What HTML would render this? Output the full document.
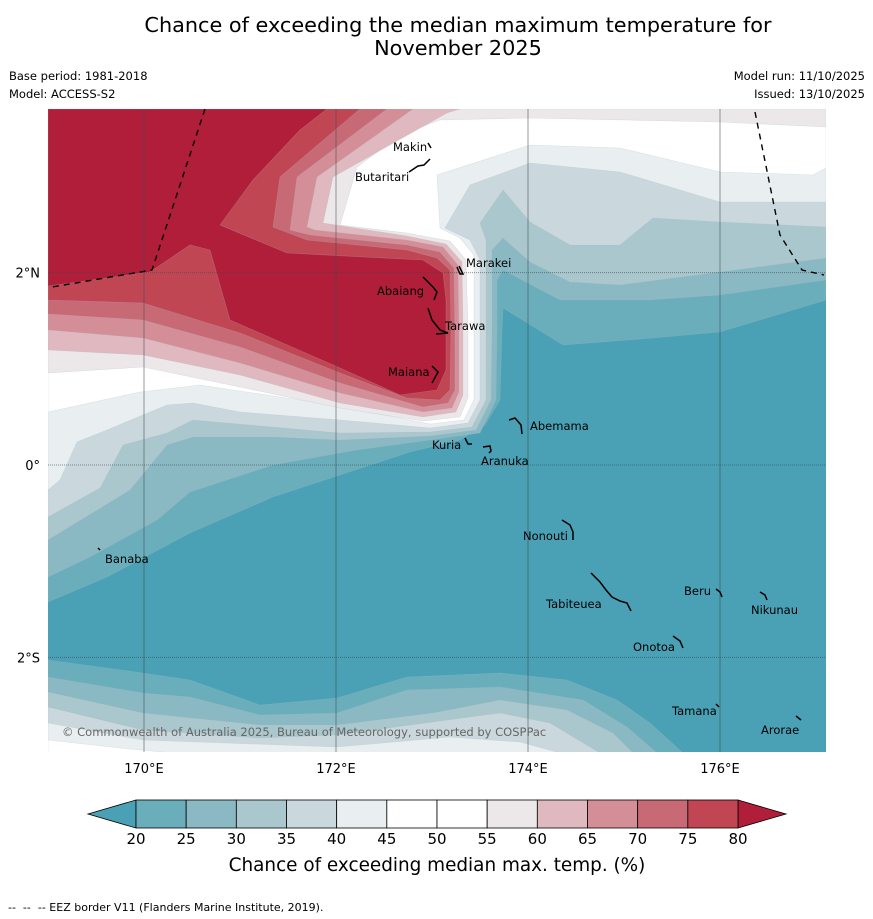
<!DOCTYPE html>
<html><head><meta charset="utf-8">
<style>
html,body{margin:0;padding:0;background:#fff;}
svg{display:block;font-family:"DejaVu Sans","Liberation Sans",sans-serif;}
</style></head>
<body>
<svg id="chart" width="873" height="919" viewBox="0 0 873 919" xmlns="http://www.w3.org/2000/svg">
<rect x="0" y="0" width="873" height="919" fill="#fff"/>
<text x="458" y="32" text-anchor="middle" font-size="20.8" fill="#000">Chance of exceeding the median maximum temperature for</text>
<text x="458" y="55" text-anchor="middle" font-size="20.8" fill="#000">November 2025</text>
<text x="9" y="80" font-size="11.5">Base period: 1981-2018</text>
<text x="9" y="98" font-size="11.5">Model: ACCESS-S2</text>
<text x="865" y="80" text-anchor="end" font-size="11.5">Model run: 11/10/2025</text>
<text x="865" y="98" text-anchor="end" font-size="11.5">Issued: 13/10/2025</text>
<defs><clipPath id="mapclip"><rect x="48" y="109" width="778" height="643"/></clipPath></defs>
<g id="map" clip-path="url(#mapclip)">
<rect x="48" y="109" width="778" height="643" fill="#4aa0b4"/>
<g id="contours"></g>
<g id="grid"></g>
<polyline points="205,109 152,270 52,287" fill="none" stroke="#000" stroke-width="1.4" stroke-dasharray="6,5"/>
<polyline points="755,112 780,235 802,270 824,275" fill="none" stroke="#000" stroke-width="1.4" stroke-dasharray="6,5"/>
<g id="islands" fill="none" stroke="#000" stroke-width="1.5"></g>
<g id="labels" font-size="11.5" fill="#000"></g>
<text x="62" y="736" font-size="11.5" fill="#666">© Commonwealth of Australia 2025, Bureau of Meteorology, supported by COSPPac</text>
</g>
<g id="axes" font-size="13" fill="#000"></g>
<g id="colorbar"></g>
<text x="437" y="871" text-anchor="middle" font-size="18.4">Chance of exceeding median max. temp. (%)</text>
<text x="8" y="911" font-size="11" xml:space="preserve">--  --  -- EEZ border V11 (Flanders Marine Institute, 2019).</text>
</svg>
<script>
// Colorbar data
const cbLevels = [20,25,30,35,40,45,50,55,60,65,70,75,80];
const cbColors = ["#6aaebb","#8ab8c3","#a9c7cc","#cad8de","#e9eef0","#ffffff","#ffffff","#ece8ea","#e0b8bf","#d48e98","#c86a75","#c04654"];
const cbUnder = "#4aa0b4";
const cbOver = "#b01e3a";
// Axis ticks
const lonTicks = [170,172,174,176];
const lonLabels = ["170°E","172°E","174°E","176°E"];
const latTicks = [2,0,-2];
const latLabels = ["2°N","0°","2°S"];

const NS="http://www.w3.org/2000/svg";
function mk(tag,attrs,parent){const e=document.createElementNS(NS,tag);for(const k in attrs)e.setAttribute(k,attrs[k]);parent.appendChild(e);return e;}
const lonX = lon => 144 + (lon-170)*96;
const latY = lat => 465 - lat*96.2;

// contour fills (digitised polylines, map pixel space)
const topContours = [
 ["#6aaebb",[[48,602],[107,577],[190,533],[273,497],[340,475],[410,452],[460,440],[485,425],[500,400],[502,330],[503,308],[563,345],[653,338],[720,332],[826,300]],"r"],
 ["#8ab8c3",[[48,577],[90,557],[157,520],[190,492],[273,465],[357,450],[430,440],[480,433],[496,400],[497,330],[497,280],[503,270],[560,300],[650,300],[720,295],[826,280]],"r"],
 ["#a9c7cc",[[48,540],[130,490],[167,445],[193,437],[273,437],[340,440],[430,436],[476,430],[491,400],[492,330],[492,250],[503,238],[530,262],[570,282],[620,285],[720,272],[826,258]],"r"],
 ["#cad8de",[[48,517],[100,488],[123,445],[167,433],[193,420],[340,433],[430,432],[472,427],[486,400],[486,330],[486,240],[480,223],[503,190],[530,222],[570,245],[620,245],[653,218],[720,222],[826,227]],"r"],
 ["#e9eef0",[[48,490],[60,480],[77,442],[107,430],[167,405],[193,403],[240,412],[340,420],[430,428],[468,423],[480,400],[480,330],[480,260],[470,240],[445,228],[470,185],[530,163],[620,172],[720,202],[826,202]],"r"],
 ["#ffffff",[[48,412],[140,392],[200,385],[300,400],[400,418],[430,424],[464,420],[474,400],[474,330],[474,255],[460,238],[440,228],[437,175],[530,145],[620,148],[720,172],[813,175],[826,168]],"r"],
 ["#ece8ea",[[48,373],[143,367],[240,387],[340,408],[423,421],[460,417],[468,398],[468,330],[466,260],[450,241],[407,233],[340,225],[357,167],[400,135],[440,120],[530,118],[720,122],[826,127]],"r"],
 ["#e0b8bf",[[48,350],[143,355],[240,375],[340,403],[423,417],[456,412],[463,395],[463,330],[462,262],[446,244],[407,236],[323,223],[333,177],[447,113],[460,109]],"t"],
 ["#d48e98",[[48,330],[143,338],[240,363],[340,393],[423,412],[452,408],[459,392],[459,330],[458,265],[443,247],[407,240],[315,230],[307,227],[317,177],[413,109]],"t"],
 ["#c86a75",[[48,314],[143,320],[240,347],[340,383],[423,407],[448,403],[455,390],[455,330],[454,268],[440,252],[407,245],[310,235],[290,230],[297,177],[387,109]],"t"],
 ["#c04654",[[48,300],[143,303],[240,333],[340,373],[407,398],[440,400],[450,390],[451,330],[450,270],[437,258],[407,250],[307,240],[273,227],[280,177],[360,109]],"t"],
 ["#b01e3a",[[48,109],[327,109],[300,130],[253,180],[220,225],[287,253],[423,260],[443,273],[446,300],[446,370],[437,390],[400,395],[340,368],[230,320],[210,250],[190,245],[150,272],[48,286]],"c"]
];
const bottomContours = [
 ["#6aaebb",[[48,660],[143,673],[190,680],[260,705],[337,698],[407,677],[500,673],[567,680],[617,700],[650,723],[683,753]]],
 ["#8ab8c3",[[48,677],[143,693],[190,697],[260,715],[337,713],[407,690],[500,687],[583,700],[627,727],[657,753]]],
 ["#a9c7cc",[[48,692],[143,713],[260,725],[337,725],[433,713],[500,700],[567,710],[613,733],[633,753]]],
 ["#cad8de",[[48,707],[143,730],[260,738],[337,735],[433,722],[500,713],[550,723],[600,753]]],
 ["#e9eef0",[[48,723],[143,740],[337,747],[450,737],[520,742],[560,753]]],
 ["#ffffff",[[48,740],[120,748],[173,753]]]
];
const cg=document.getElementById('contours');
topContours.forEach((c,i)=>{
  let pts=c[1].slice();
  if(c[2]==="r"){pts.push([826,109],[48,109]);}
  else if(c[2]==="t"){pts.push([48,109]);}
  const p=mk('polygon',{points:pts.map(q=>q.join(',')).join(' '),fill:c[0],stroke:"rgba(170,185,195,0.35)","stroke-width":"0.6"},cg);
  
  
});
bottomContours.forEach((c,i)=>{
  let pts=c[1].slice();pts.push([48,753]);
  const p=mk('polygon',{points:pts.map(q=>q.join(',')).join(' '),fill:c[0],stroke:"rgba(170,185,195,0.35)","stroke-width":"0.6"},cg);
  
  
});

// grid
const gg=document.getElementById('grid');
lonTicks.forEach(l=>{
  const ln=mk('line',{x1:lonX(l),x2:lonX(l),y1:109,y2:752,stroke:"#3c4a50","stroke-opacity":"0.55","stroke-width":"1"},gg);
  
  
});
latTicks.forEach(l=>{
  const ln=mk('line',{x1:48,x2:826,y1:latY(l),y2:latY(l),stroke:"#3c4a50","stroke-opacity":"0.6","stroke-width":"1","stroke-dasharray":"1,1"},gg);
  
  
});
// axes labels
const ag=document.getElementById('axes');
lonTicks.forEach((l,i)=>{
  const t=mk('text',{x:lonX(l),y:773,"text-anchor":"middle"},ag);t.textContent=lonLabels[i];
  
  
});
latTicks.forEach((l,i)=>{
  const t=mk('text',{x:40,y:latY(l)+5,"text-anchor":"end"},ag);t.textContent=latLabels[i];
  
  
});

// islands
const islands=[["Makin",393,151,"428,143 431,148"],["Butaritari",355,181,"409,172 418,166 424,165 430,159"],["Marakei",466,267,"457,267 460,274 463,274 459,266"],
["Abaiang",377,295,"423,277 433,287 437,292 434,300"],["Tarawa",445,330,"428,308 432,320 440,330 448,333 436,334"],["Maiana",388,376,"432,366 438,372 432,383"],
["Abemama",530,430,"509,420 515,418 521,425 522,434"],["Kuria",432,449,"465,438 468,444 472,444"],["Aranuka",481,465,"483,447 490,446 491,451 489,453"],
["Nonouti",523,540,"562,520 570,525 573,532 573,540"],["Banaba",105,563,"98,548 100,550"],["Beru",684,595,"716,589 720,592 722,597"],
["Tabiteuea",546,608,"591,573 600,582 606,590 612,597 620,601 627,603 631,611"],["Nikunau",751,614,"760,592 765,595 767,600"],["Onotoa",633,651,"673,636 680,641 683,648"],
["Tamana",672,715,"716,704 719,707"],["Arorae",761,734,"796,716 801,720"]];
const ig=document.getElementById('islands'), lg=document.getElementById('labels');
islands.forEach(d=>{
  const pl=mk('polyline',{points:d[3]},ig);
  
  
  const t=mk('text',{x:d[1],y:d[2]},lg);t.textContent=d[0];
  
  
});

// colorbar
const cb=document.getElementById('colorbar');
const cbX0=136, cbX1=738, cbY=800, cbH=28;
const cbScale = v => cbX0 + (v-cbLevels[0])/(cbLevels[cbLevels.length-1]-cbLevels[0])*(cbX1-cbX0);
const tl=mk('polygon',{points:`88,${cbY+cbH/2} ${cbX0},${cbY} ${cbX0},${cbY+cbH}`,fill:cbUnder,stroke:"#000","stroke-width":"0.8"},cb);


const tr=mk('polygon',{points:`${cbX1},${cbY} 786,${cbY+cbH/2} ${cbX1},${cbY+cbH}`,fill:cbOver,stroke:"#000","stroke-width":"0.8"},cb);


cbColors.forEach((c,i)=>{
  const x0=cbScale(cbLevels[i]), x1=cbScale(cbLevels[i+1]);
  const r=mk('rect',{x:x0,y:cbY,width:x1-x0,height:cbH,fill:c,stroke:"#000","stroke-width":"0.8"},cb);
  
  
});
cbLevels.forEach(v=>{
  const t=mk('text',{x:cbScale(v),y:844,"text-anchor":"middle","font-size":"15"},cb);t.textContent=v;
  
  
});
</script>
</body></html>
